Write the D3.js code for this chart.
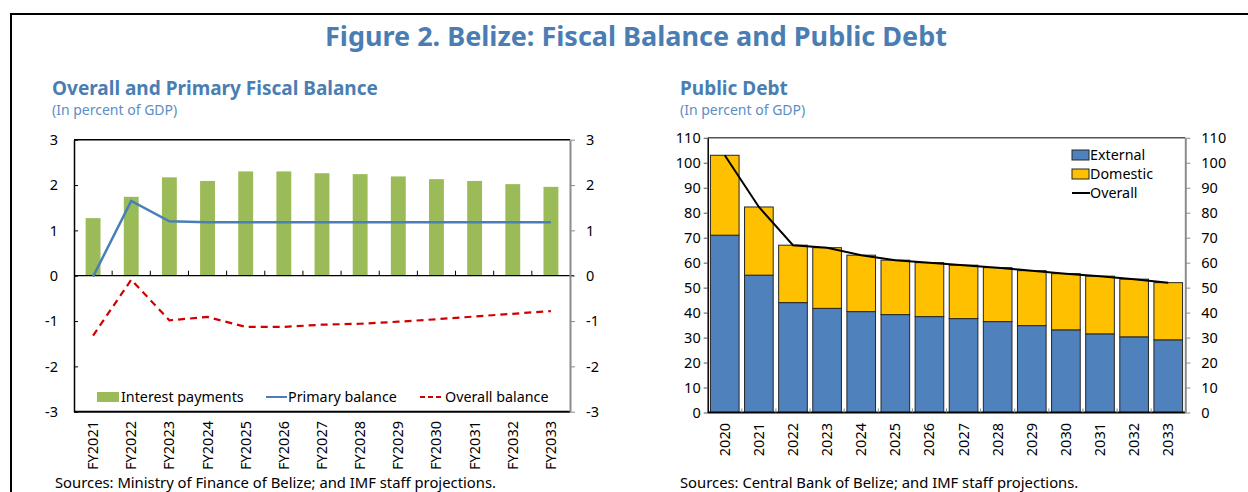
<!DOCTYPE html>
<html>
<head>
<meta charset="utf-8">
<script src="https://cdn.jsdelivr.net/npm/d3@7"></script>
<style>
  body { margin: 0; background: #fff; }
  svg { display: block; font-family: "Noto Sans", "Open Sans", sans-serif; }
</style>
</head>
<body>
<div id="chart"></div>
<script>
"use strict";

// Size of page
const w = 1248;
const h = 492;

// Left panel data: fiscal balance (percent of GDP)
const fiscalYears = ["FY2021", "FY2022", "FY2023", "FY2024", "FY2025", "FY2026", "FY2027",
  "FY2028", "FY2029", "FY2030", "FY2031", "FY2032", "FY2033"];
const interestPayments = [1.27, 1.74, 2.17, 2.09, 2.30, 2.30, 2.26, 2.24, 2.19, 2.13, 2.09, 2.02, 1.96];
const primaryBalance = [-0.02, 1.65, 1.20, 1.18, 1.18, 1.18, 1.18, 1.18, 1.18, 1.18, 1.18, 1.18, 1.18];
const overallBalance = [-1.32, -0.09, -0.985, -0.91, -1.13, -1.13, -1.08, -1.06, -1.015, -0.96, -0.90, -0.84, -0.78];
const balanceTicks = [-3, -2, -1, 0, 1, 2, 3];

// Right panel data: public debt (percent of GDP)
const debtYears = ["2020", "2021", "2022", "2023", "2024", "2025", "2026", "2027",
  "2028", "2029", "2030", "2031", "2032", "2033"];
const externalDebt = [71, 55, 44, 41.7, 40.4, 39.2, 38.4, 37.6, 36.4, 34.8, 33.1, 31.5, 30.3, 29.1];
const domesticDebt = [32, 27.3, 23, 24.3, 22.6, 21.8, 21.6, 21.4, 21.6, 22, 22.5, 23.1, 23.1, 22.9];
const overallDebt = [103, 82.3, 67, 66, 63, 61, 60, 59, 58, 56.8, 55.6, 54.6, 53.4, 52];
const debtTicks = [0, 10, 20, 30, 40, 50, 60, 70, 80, 90, 100, 110];

const titleBlue = "#4a7eb3";
const green = "#9bbb59";
const blue = "#4f81bd";
const gold = "#ffc000";
const red = "#d00000";

const svg = d3.select("#chart")
  .append("svg")
  .attr("width", w)
  .attr("height", h);

// Frame
svg.append("path")
  .attr("d", "M11,492 V14 H1248")
  .attr("fill", "none")
  .attr("stroke", "#000")
  .attr("stroke-width", 2);

// Main title
svg.append("text")
  .attr("x", 636)
  .attr("y", 46)
  .attr("text-anchor", "middle")
  .attr("fill", titleBlue)
  .style("font-size", "27px")
  .style("font-weight", "bold")
  .text("Figure 2. Belize: Fiscal Balance and Public Debt");

// Panel titles
function panelTitle(x, title) {
  svg.append("text")
    .attr("x", x)
    .attr("y", 95)
    .attr("fill", titleBlue)
    .style("font-size", "19px")
    .style("font-weight", "bold")
    .text(title);
  svg.append("text")
    .attr("x", x)
    .attr("y", 115)
    .attr("fill", "#5b8ec4")
    .style("font-size", "14px")
    .text("(In percent of GDP)");
}
panelTitle(52, "Overall and Primary Fiscal Balance");
panelTitle(680, "Public Debt");

// ---------- Left panel ----------
const x1 = d3.scaleBand().domain(fiscalYears).range([74, 570]);
const y1 = d3.scaleLinear().domain([-3, 3]).range([411.7, 139.7]);
const bw1 = x1.bandwidth();
const intFmt = (d) => String(d); // plain hyphen, no decimals

const g1 = svg.append("g");

// Interest bars
g1.selectAll("rect.interest")
  .data(fiscalYears)
  .enter()
  .append("rect")
  .attr("class", "interest")
  .attr("x", (d) => x1(d) + bw1 * 0.305)
  .attr("width", bw1 * 0.39)
  .attr("y", (d, i) => y1(interestPayments[i]))
  .attr("height", (d, i) => y1(0) - y1(interestPayments[i]))
  .attr("fill", green);

// Zero line with category ticks
g1.append("line")
  .attr("x1", 74).attr("x2", 574)
  .attr("y1", y1(0)).attr("y2", y1(0))
  .attr("stroke", "#000").attr("stroke-width", 1.2);
g1.selectAll("line.cat")
  .data(fiscalYears.slice(1))
  .enter()
  .append("line")
  .attr("x1", (d) => x1(d)).attr("x2", (d) => x1(d))
  .attr("y1", y1(0)).attr("y2", y1(0) - 5)
  .attr("stroke", "#000");

// Lines
const line1 = (vals) => d3.line()
  .x((d, i) => x1(fiscalYears[i]) + bw1 / 2)
  .y((d) => y1(d))(vals);

g1.append("path")
  .attr("d", line1(primaryBalance))
  .attr("fill", "none")
  .attr("stroke", "#4a7eb6")
  .attr("stroke-width", 2.5);

g1.append("path")
  .attr("d", line1(overallBalance))
  .attr("fill", "none")
  .attr("stroke", red)
  .attr("stroke-width", 2.2)
  .attr("stroke-dasharray", "7,5");

// Frame lines: top and bottom
g1.append("line")
  .attr("x1", 74).attr("x2", 570).attr("y1", y1(3)).attr("y2", y1(3))
  .attr("stroke", "#000").attr("stroke-width", 1.5);
g1.append("line")
  .attr("x1", 74).attr("x2", 570).attr("y1", y1(-3)).attr("y2", y1(-3))
  .attr("stroke", "#000").attr("stroke-width", 2);

// Left axis
const axL1 = g1.append("g")
  .attr("transform", "translate(74,0)")
  .call(d3.axisLeft(y1).tickValues(balanceTicks).tickFormat(intFmt)
    .tickSizeInner(-4).tickSizeOuter(0).tickPadding(16));
axL1.select(".domain").attr("stroke", "#000").attr("stroke-width", 1.5);

// Right axis
const axR1 = g1.append("g")
  .attr("transform", "translate(570,0)")
  .call(d3.axisRight(y1).tickValues(balanceTicks).tickFormat(intFmt)
    .tickSizeInner(5).tickSizeOuter(0).tickPadding(11));
axR1.select(".domain").attr("stroke", "#8c8c8c").attr("stroke-width", 2);
axR1.selectAll(".tick line").attr("stroke", "#8c8c8c");

[axL1, axR1].forEach((a) => {
  a.selectAll("text").style("font-size", "14.5px").attr("fill", "#000")
    .style("font-family", "'Noto Sans', sans-serif");
});

// Category labels (rotated)
g1.selectAll("text.cat")
  .data(fiscalYears)
  .enter()
  .append("text")
  .attr("class", "cat")
  .attr("transform", (d) => "translate(" + (x1(d) + bw1 / 2 + 5) + ",421) rotate(-90)")
  .attr("text-anchor", "end")
  .style("font-size", "14.5px")
  .text((d) => d);

// Legend
const leg1 = g1.append("g");
leg1.append("rect")
  .attr("x", 97).attr("y", 392).attr("width", 22).attr("height", 10)
  .attr("fill", green);
leg1.append("text").attr("x", 121).attr("y", 402).style("font-size", "14.3px").text("Interest payments");
leg1.append("line")
  .attr("x1", 266).attr("x2", 287).attr("y1", 397).attr("y2", 397)
  .attr("stroke", "#4a7eb6").attr("stroke-width", 2);
leg1.append("text").attr("x", 288).attr("y", 402).style("font-size", "14.3px").text("Primary balance");
leg1.append("line")
  .attr("x1", 420).attr("x2", 444).attr("y1", 397).attr("y2", 397)
  .attr("stroke", red).attr("stroke-width", 2).attr("stroke-dasharray", "5,3");
leg1.append("text").attr("x", 445).attr("y", 402).style("font-size", "14.3px").text("Overall balance");

// Sources
svg.append("text").attr("x", 55).attr("y", 488).style("font-size", "14.8px")
  .text("Sources: Ministry of Finance of Belize; and IMF staff projections.");

// ---------- Right panel ----------
const x2 = d3.scaleBand().domain(debtYears).range([707.7, 1185.3]);
const y2 = d3.scaleLinear().domain([0, 110]).range([412.5, 137.8]);
const bw2 = x2.bandwidth();

const g2 = svg.append("g");

// Top frame line
g2.append("line")
  .attr("x1", 707.7).attr("x2", 1185.3).attr("y1", y2(110)).attr("y2", y2(110))
  .attr("stroke", "#555").attr("stroke-width", 1.5);

const debtTable = debtYears.map((d, i) => ({ year: d, External: externalDebt[i], Domestic: domesticDebt[i] }));
const stacked = d3.stack().keys(["External", "Domestic"])(debtTable);
const debtColor = { External: blue, Domestic: gold };

g2.selectAll("g.layer")
  .data(stacked)
  .enter()
  .append("g")
  .attr("class", "layer")
  .attr("fill", (d) => debtColor[d.key])
  .selectAll("rect")
  .data((d) => d)
  .enter()
  .append("rect")
  .attr("x", (d) => x2(d.data.year) + bw2 * 0.08)
  .attr("width", bw2 * 0.84)
  .attr("y", (d) => y2(d[1]))
  .attr("height", (d) => y2(d[0]) - y2(d[1]))
  .attr("stroke", "#262626")
  .attr("stroke-width", 1);

// Overall debt line
g2.append("path")
  .attr("d", d3.line()
    .x((d, i) => x2(debtYears[i]) + bw2 / 2)
    .y((d) => y2(d))(overallDebt))
  .attr("fill", "none")
  .attr("stroke", "#000")
  .attr("stroke-width", 2);

// Bottom axis with inner ticks
g2.append("line")
  .attr("x1", 707.7).attr("x2", 1185.3).attr("y1", y2(0)).attr("y2", y2(0))
  .attr("stroke", "#000").attr("stroke-width", 2);
g2.selectAll("line.cat")
  .data(debtYears.slice(1))
  .enter()
  .append("line")
  .attr("x1", (d) => x2(d)).attr("x2", (d) => x2(d))
  .attr("y1", y2(0)).attr("y2", y2(0) - 4)
  .attr("stroke", "#888");

// Left axis
const axL2 = g2.append("g")
  .attr("transform", "translate(707.7,0)")
  .call(d3.axisLeft(y2).tickValues(debtTicks).tickSizeInner(4).tickSizeOuter(0).tickPadding(3));
axL2.select(".domain").attr("stroke", "#000").attr("stroke-width", 1.5);
axL2.selectAll(".tick line").attr("stroke", "#555");

// Right axis
const axR2 = g2.append("g")
  .attr("transform", "translate(1185.3,0)")
  .call(d3.axisRight(y2).tickValues(debtTicks).tickSizeInner(5).tickSizeOuter(0).tickPadding(11));
axR2.select(".domain").attr("stroke", "#8c8c8c").attr("stroke-width", 2);
axR2.selectAll(".tick line").attr("stroke", "#8c8c8c");

[axL2, axR2].forEach((a) => {
  a.selectAll("text").style("font-size", "14.5px").attr("fill", "#000")
    .style("font-family", "'Noto Sans', sans-serif");
});

g2.selectAll("text.cat")
  .data(debtYears)
  .enter()
  .append("text")
  .attr("class", "cat")
  .attr("transform", (d) => "translate(" + (x2(d) + bw2 / 2 + 5) + ",423) rotate(-90)")
  .attr("text-anchor", "end")
  .style("font-size", "14.5px")
  .text((d) => d);

// Legend
const legItems = [
  { label: "External", type: "rect", color: blue },
  { label: "Domestic", type: "rect", color: gold },
  { label: "Overall", type: "line", color: "#000" }
];
const leg2 = g2.selectAll("g.leg")
  .data(legItems)
  .enter()
  .append("g")
  .attr("class", "leg")
  .attr("transform", (d, i) => "translate(1072," + (150 + i * 19) + ")");
leg2.filter((d) => d.type === "rect")
  .append("rect")
  .attr("x", 0).attr("y", 0).attr("width", 17).attr("height", 10)
  .attr("fill", (d) => d.color)
  .attr("stroke", "#262626");
leg2.filter((d) => d.type === "line")
  .append("line")
  .attr("x1", 0).attr("x2", 18).attr("y1", 5).attr("y2", 5)
  .attr("stroke", "#000").attr("stroke-width", 2);
leg2.append("text")
  .attr("x", 18).attr("y", 10)
  .style("font-size", "14.3px")
  .text((d) => d.label);

svg.append("text").attr("x", 680).attr("y", 488).style("font-size", "14.8px")
  .text("Sources: Central Bank of Belize; and IMF staff projections.");
</script>
</body>
</html>
